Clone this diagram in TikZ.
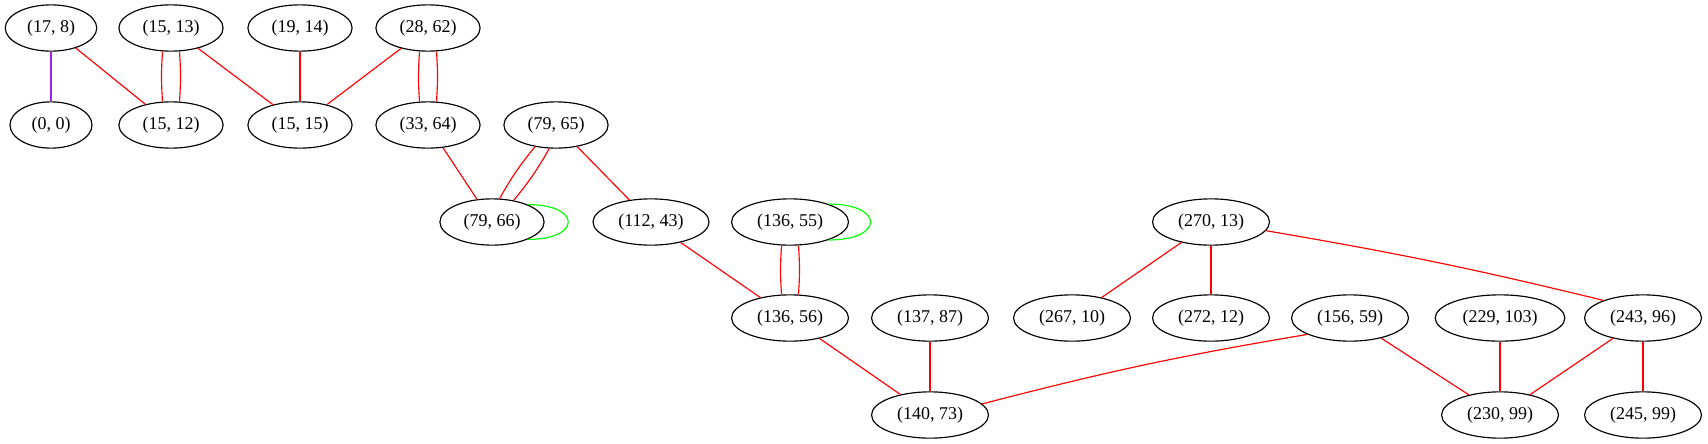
\documentclass[tikz,border=0pt]{standalone}
\usepackage{fontspec}
\setmainfont{Liberation Serif}
\usetikzlibrary{shapes.geometric}
\definecolor{gvred}{RGB}{255,0,0}
\definecolor{gvgreen}{RGB}{0,255,0}
\definecolor{gvpurple}{RGB}{160,32,240}
\begin{document}
\begin{tikzpicture}[x=0.7778pt,y=-0.7778pt,
  gnode/.style={ellipse, draw=black, line width=0.9pt, fill=white,
    font=\fontsize{14pt}{16pt}\selectfont,
    inner xsep=6.5pt, inner ysep=0pt, minimum width=63.8pt, minimum height=36pt},
  redge/.style={draw=gvred, line width=0.9pt},
  gedge/.style={draw=gvgreen, line width=0.9pt},
  pedge/.style={draw=gvpurple, line width=0.9pt}]
\useasboundingbox (0,0) rectangle (1708,443);
% row 1
\node[gnode] (n178)  at (51,28)  {(17, 8)};
\node[gnode] (n1513) at (171,28) {(15, 13)};
\node[gnode] (n1914) at (300,28) {(19, 14)};
\node[gnode] (n2862) at (428,28) {(28, 62)};
% row 2
\node[gnode] (n00)   at (51,125)  {(0, 0)};
\node[gnode] (n1512) at (171,125) {(15, 12)};
\node[gnode] (n1515) at (300,125) {(15, 15)};
\node[gnode] (n3364) at (428,125) {(33, 64)};
\node[gnode] (n7965) at (556,125) {(79, 65)};
% row 3
\node[gnode] (n7966)  at (492,222)  {(79, 66)};
\node[gnode] (n11243) at (651,222)  {(112, 43)};
\node[gnode] (n13655) at (790,222)  {(136, 55)};
\node[gnode] (n27013) at (1211,222) {(270, 13)};
% row 4
\node[gnode] (n13656)  at (790,318)  {(136, 56)};
\node[gnode] (n13787)  at (930,318)  {(137, 87)};
\node[gnode] (n26710)  at (1072,318) {(267, 10)};
\node[gnode] (n27212)  at (1211,318) {(272, 12)};
\node[gnode] (n15659)  at (1350,318) {(156, 59)};
\node[gnode] (n229103) at (1500,318) {(229, 103)};
\node[gnode] (n24396)  at (1643,318) {(243, 96)};
% row 5
\node[gnode] (n14073) at (930,415)  {(140, 73)};
\node[gnode] (n23099) at (1500,415) {(230, 99)};
\node[gnode] (n24599) at (1643,415) {(245, 99)};
% edges
\draw[pedge] (n178) -- (n00);
\draw[redge] (n178) -- (n1512);
\draw[redge] ([xshift=-6.6pt]n1513.south) to[bend right=4] ([xshift=-6.6pt]n1512.north);
\draw[redge] ([xshift=6.6pt]n1513.south) to[bend left=4] ([xshift=6.6pt]n1512.north);
\draw[redge] (n1513) -- (n1515);
\draw[redge] (n1914) -- (n1515);
\draw[redge] (n2862) -- (n1515);
\draw[redge] ([xshift=-6.6pt]n2862.south) to[bend right=4] ([xshift=-6.6pt]n3364.north);
\draw[redge] ([xshift=6.6pt]n2862.south) to[bend left=4] ([xshift=6.6pt]n3364.north);
\draw[redge] (n3364) -- (n7966);
\draw[redge] (n7965.-134) to[bend right=5] (n7966.72);
\draw[redge] (n7965.-106) to[bend left=5] (n7966.45);
\draw[gedge] (n7966.26) .. controls +(54,0) and +(54,0) .. (n7966.-26);
\draw[redge] (n7965) -- (n11243);
\draw[redge] (n11243) -- (n13656);
\draw[redge] ([xshift=-6.6pt]n13655.south) to[bend right=4] ([xshift=-6.6pt]n13656.north);
\draw[redge] ([xshift=6.6pt]n13655.south) to[bend left=4] ([xshift=6.6pt]n13656.north);
\draw[gedge] (n13655.25) .. controls +(56,0) and +(56,0) .. (n13655.-25);
\draw[redge] (n13656) -- (n14073);
\draw[redge] (n13787) -- (n14073);
\draw[redge] (n15659.-159) to[bend right=2.5] (n14073.12);
\draw[redge] (n27013) -- (n26710);
\draw[redge] (n27013) -- (n27212);
\draw[redge] (n27013.-9) to[bend left=2] (n24396.156);
\draw[redge] (n15659) -- (n23099);
\draw[redge] (n229103) -- (n23099);
\draw[redge] (n24396) -- (n23099);
\draw[redge] (n24396) -- (n24599);
\end{tikzpicture}
\end{document}
